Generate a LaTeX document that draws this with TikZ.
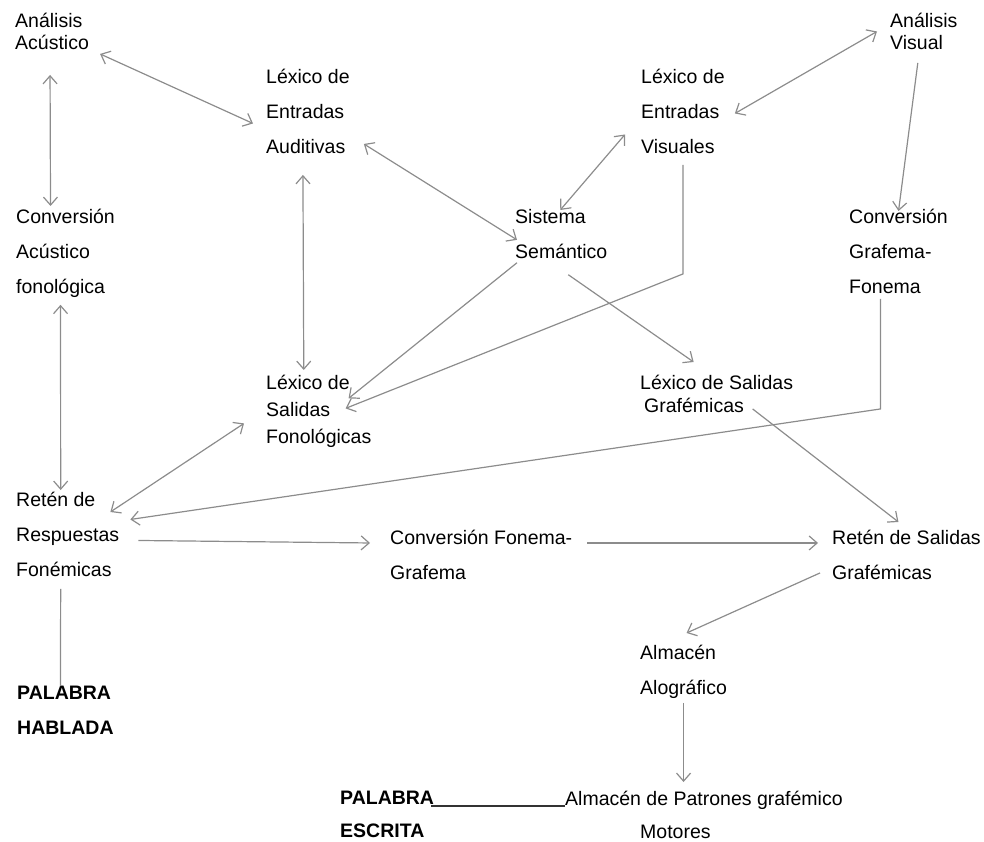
\documentclass[tikz,border=0pt]{standalone}
\usepackage{fontspec}
\setmainfont{Liberation Sans}
\usetikzlibrary{arrows.meta}

\begin{document}
\begin{tikzpicture}[x=1pt,y=-1pt,>={Straight Barb[length=8pt,width=14pt]},
  wide/.style={align=left,inner sep=0pt,anchor=north west,font=\fontsize{19.5}{35}\selectfont},
  tight/.style={wide,font=\fontsize{19.5}{22}\selectfont},
  mid/.style={wide,font=\fontsize{19.5}{27}\selectfont},
  link/.style={draw=black!45,line width=1.2pt}]
  \useasboundingbox (0,0) rectangle (984,842);

  \node[tight] (aa)  at (15,13)   {Análisis\\Acústico};
  \node[wide]  (lea) at (266,69)  {Léxico de\\Entradas\\Auditivas};
  \node[wide]  (lev) at (641,69)  {Léxico de\\Entradas\\Visuales};
  \node[tight] (av)  at (890,13)  {Análisis\\Visual};
  \node[wide]  (cac) at (16,209)  {Conversión\\Acústico\\fonológica};
  \node[wide]  (ss)  at (515,209) {Sistema\\Semántico};
  \node[wide]  (cgf) at (849,209) {Conversión\\Grafema-\\Fonema};
  \node[mid]   (lsf) at (266,375) {Léxico de\\Salidas\\Fonológicas};
  \node[wide,font=\fontsize{19.5}{23}\selectfont] (lsg) at (640,375) {Léxico de Salidas\\\hspace*{4pt}Grafémicas};
  \node[wide]  (rrf) at (16,492)  {Retén de\\Respuestas\\Fonémicas};
  \node[wide]  (cfg) at (390,530) {Conversión Fonema-\\Grafema};
  \node[wide]  (rsg) at (832,530) {Retén de Salidas\\Grafémicas};
  \node[wide]  (aal) at (640,645) {Almacén\\Alográfico};
  \node[wide,font=\fontsize{19.5}{35}\selectfont\bfseries] (ph) at (17,686) {PALABRA\\HABLADA};
  \node[wide,font=\fontsize{19.5}{33}\selectfont\bfseries] (pe) at (340,791) {PALABRA\\ESCRITA};
  \node[wide,font=\fontsize{19.5}{33}\selectfont] (apm) at (565,791) {Almacén de Patrones grafémico\\\hspace*{75pt}Motores};

  % ruta auditiva
  \draw[link,<->] ([shift={(11,4)}]aa.south east) -- ([shift={(-13,12)}]lea.west);
  \draw[link,<->] ([shift={(-2,25)}]aa.south) -- ([shift={(-15,-3)}]cac.north);
  \draw[link,<->] ([shift={(-5,7)}]cac.south) -- ([shift={(-7,-2)}]rrf.north);
  \draw[link,<->] ([shift={(-5,21)}]lea.south) -- ([shift={(-15,-5)}]lsf.north);
  \draw[link,<->] ([shift={(14,-10)}]lea.south east) -- ([shift={(2,6)}]ss.west);
  \draw[link,<->] ([shift={(-9,20)}]rrf.north east) -- ([shift={(-22,12)}]lsf.west);

  % ruta visual
  \draw[link,<->] ([shift={(-1,1)}]ss.north) -- ([shift={(-16,23)}]lev.west);
  \draw[link,<->] ([shift={(-13,0)}]av.west) -- ([shift={(10,2)}]lev.east);
  \draw[link,->] ([shift={(-6,13)}]av.south) -- ([shift={(0,2)}]cgf.north);
  \draw[link,->] ([shift={(2,4)}]ss.south west) -- ([shift={(-23,-13)}]lsf.east);
  \draw[link,->] ([shift={(0,11)}]lev.south) -- ++(0,109) -- ([shift={(-26,-3)}]lsf.east);
  \draw[link,->] ([shift={(7,16)}]ss.south) -- ([shift={(-23,-13)}]lsg.north);
  \draw[link,->] ([shift={(-18,5)}]cgf.south) -- ++(0,110) -- ([shift={(11,-15)}]rrf.east);
  \draw[link,->] ([shift={(36,-4)}]lsg.south) -- ([shift={(-8,-8)}]rsg.north);

  % salida escrita
  \draw[link,->] ([shift={(19,6)}]rrf.east) -- ([shift={(-20,-12)}]cfg.west);
  \draw[link,->] ([shift={(15,-12)}]cfg.east) -- ([shift={(-14,-12)}]rsg.west);
  \draw[link,->] ([shift={(-12,-7)}]rsg.south west) -- ([shift={(3,-12)}]aal.north);
  \draw[link,->] ([shift={(0,4)}]aal.south) -- ([shift={(0,-9)}]aal.south |- apm.north);
  \draw[link] ([shift={(-7,12)}]rrf.south) -- ([shift={(-5,0)}]ph.north);
  \draw[black!80,line width=1.1pt] ([shift={(-3,15)}]pe.north east) -- ([shift={(0,15)}]apm.north west);
\end{tikzpicture}
\end{document}
